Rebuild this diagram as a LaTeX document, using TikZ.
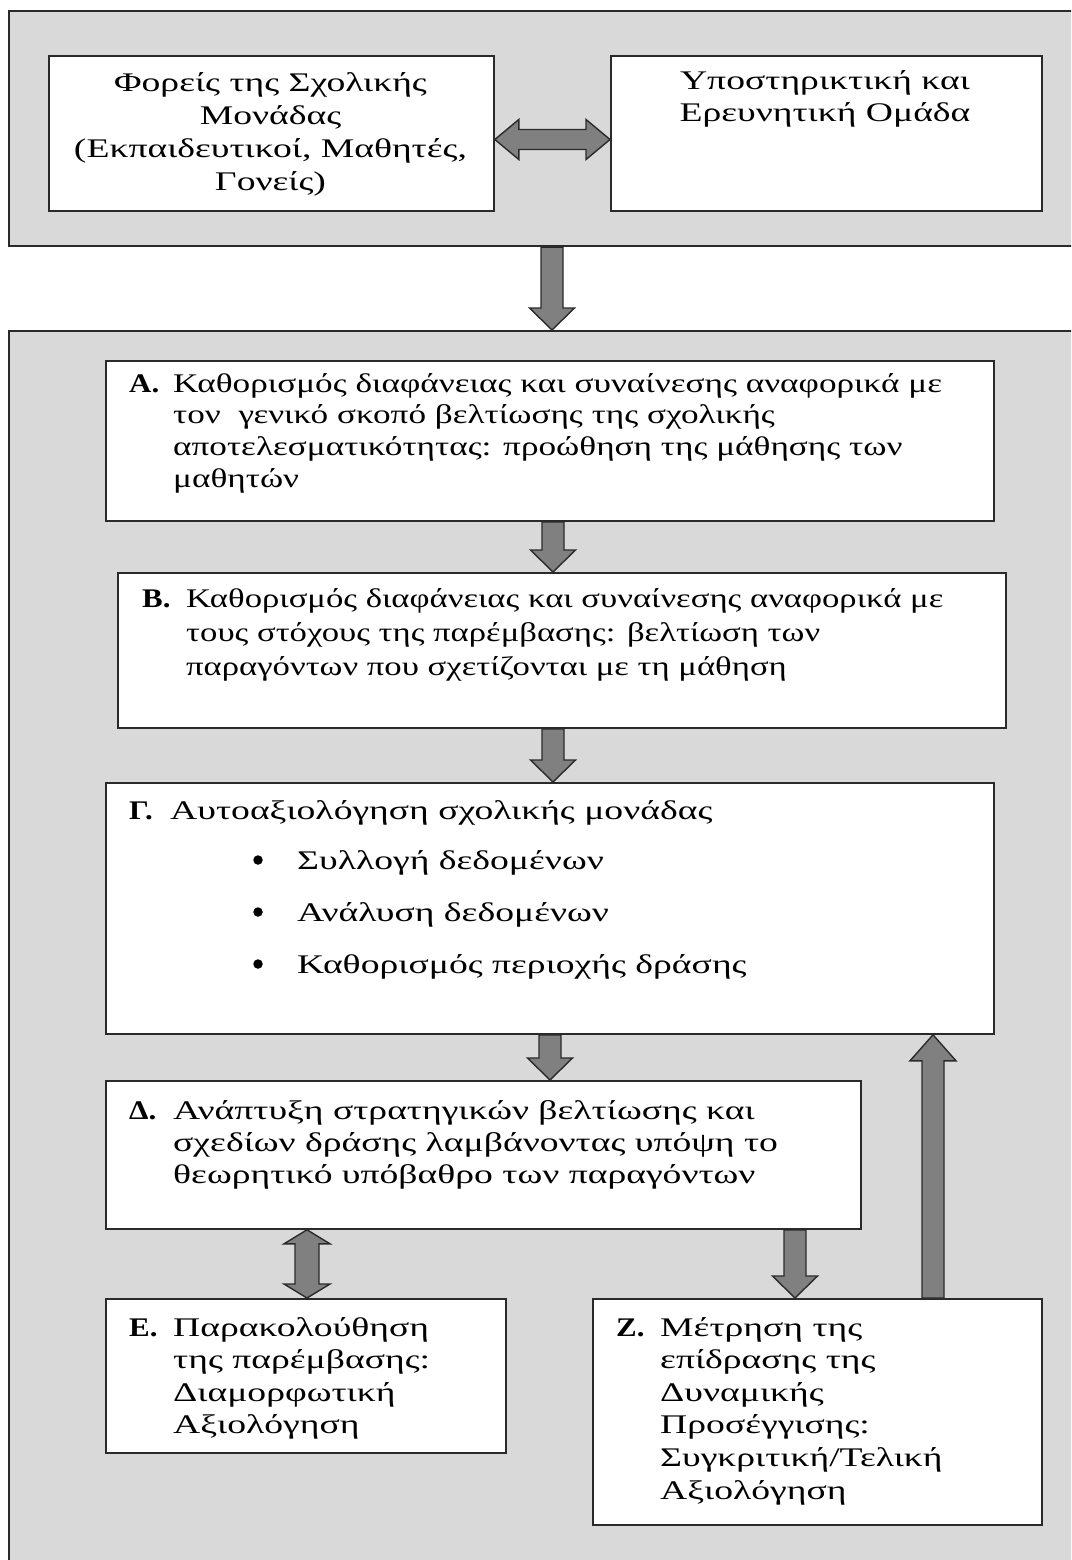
\documentclass[tikz,border=0pt]{standalone}
\usepackage{fontspec}
\setmainfont{Liberation Serif}[FakeStretch=1.4]
\newfontfamily\stepfont{Liberation Serif}[FakeStretch=1.31]
\newfontfamily\stepfontb{Liberation Serif}[FakeStretch=1.29]
\newfontfamily\labelfont{Liberation Serif}[FakeStretch=1.15]
\usetikzlibrary{calc}
\definecolor{panel}{HTML}{D9D9D9}
\definecolor{arrowfill}{HTML}{808080}
\definecolor{edge}{HTML}{2A2A2A}

% single block arrow: start, tip, shaft half-width, head half-width, head length
\newcommand\blkarrow[6]{%
  \path (#1) coordinate (s) (#2) coordinate (e) ($(e)!#5!(s)$) coordinate (h);
  \draw[blk] ($(s)!#3!90:(e)$) -- ($(h)!#3!90:(e)$) -- ($(h)!#4!90:(e)$) -- (e)
    -- ($(h)!#4!-90:(e)$) -- ($(h)!#3!-90:(e)$) -- ($(s)!#3!-90:(e)$) -- cycle;
  \coordinate (#6) at ($(s)!0.5!(e)$);}
% double block arrow: tip, tip, shaft half-width, head half-width, head length
\newcommand\dblarrow[6]{%
  \path (#1) coordinate (s) (#2) coordinate (e) ($(e)!#5!(s)$) coordinate (h)
    ($(s)!#5!(e)$) coordinate (g);
  \draw[blk] (s) -- ($(g)!#4!90:(e)$) -- ($(g)!#3!90:(e)$) -- ($(h)!#3!90:(e)$)
    -- ($(h)!#4!90:(e)$) -- (e) -- ($(h)!#4!-90:(e)$) -- ($(h)!#3!-90:(e)$)
    -- ($(g)!#3!-90:(e)$) -- ($(g)!#4!-90:(e)$) -- cycle;
  \coordinate (#6) at ($(s)!0.5!(e)$);}

\begin{document}
\begin{tikzpicture}[x=1bp,y=-1bp,
  panelbox/.style={fill=panel,draw=edge,line width=2.2bp},
  box/.style={fill=white,draw=edge,line width=1.8bp,inner sep=0pt,anchor=north west},
  txt/.style={anchor=base west,inner sep=0pt,font=\fontsize{27}{33}\selectfont},
  ctxt/.style={txt,anchor=base},
  stxt/.style={txt,font=\fontsize{27}{33}\stepfont},
  btxt/.style={txt,font=\fontsize{27}{33}\stepfontb},
  lbl/.style={txt,font=\fontsize{27}{33}\labelfont\bfseries},
  bul/.style={circle,fill=black,inner sep=0pt,minimum size=9.5bp},
  blk/.style={fill=arrowfill,draw=edge,line width=1.4bp,line join=miter}]

\useasboundingbox (0,0) rectangle (1071,1560);
\clip (0,0) rectangle (1071,1560);
\fill[white] (0,0) rectangle (1071,1560);

% the two grey panels
\node[panelbox,anchor=north west,inner sep=0pt,minimum width=1090bp,minimum height=235bp] (P1) at (8,10) {};
\node[panelbox,anchor=north west,inner sep=0pt,minimum width=1090bp,minimum height=1300bp] (P2) at (8,330) {};

% boxes
\node[box,minimum width=445bp,minimum height=155bp] (F) at (48,55) {};
\node[box,minimum width=431bp,minimum height=155bp] (S) at (610,55) {};
\node[box,minimum width=888bp,minimum height=160bp] (A) at (105,360) {};
\node[box,minimum width=888bp,minimum height=155bp] (B) at (117,572) {};
\node[box,minimum width=888bp,minimum height=251bp] (G) at (105,782) {};
\node[box,minimum width=755bp,minimum height=148bp] (D) at (105,1080) {};
\node[box,minimum width=400bp,minimum height=154bp] (E) at (105,1298) {};
\node[box,minimum width=449bp,minimum height=226bp] (Z) at (592,1298) {};

% texts of the upper panel
\foreach \t [count=\i] in {{Φορείς της Σχολικής},{Μονάδας},{(Εκπαιδευτικοί, Μαθητές,},{Γονείς)}}
  \node[ctxt] (F-\i) at (270.5,{92+32.7*(\i-1)}) {\t};
\foreach \t [count=\i] in {{Υποστηρικτική και},{Ερευνητική Ομάδα}}
  \node[ctxt] (S-\i) at (825,{90+32*(\i-1)}) {\t};

% A
\node[lbl] (A-l) at (129,392) {Α.};
\foreach \t [count=\i] in {{Καθορισμός διαφάνειας και συναίνεσης αναφορικά με},
  {τον\ \ γενικό σκοπό βελτίωσης της σχολικής},
  {αποτελεσματικότητας: προώθηση της μάθησης των},{μαθητών}}
  \node[stxt] (A-\i) at (173,{392+31.8*(\i-1)}) {\t};

% B
\node[lbl] (B-l) at (142,607) {Β.};
\foreach \t [count=\i] in {{Καθορισμός διαφάνειας και συναίνεσης αναφορικά με},
  {τους στόχους της παρέμβασης: βελτίωση των},
  {παραγόντων που σχετίζονται με τη μάθηση}}
  \node[btxt] (B-\i) at (186,{607+34*(\i-1)}) {\t};

% Γ
\node[lbl] (G-l) at (129,819) {Γ.};
\node[txt] (G-0) at (170,819) {Αυτοαξιολόγηση σχολικής μονάδας};
\foreach \t [count=\i] in {{Συλλογή δεδομένων},{Ανάλυση δεδομένων},{Καθορισμός περιοχής δράσης}}{
  \node[bul] (G-b\i) at (258,{860+52*(\i-1)}) {};
  \node[txt] (G-\i) at (297,{869+52*(\i-1)}) {\t};}

% Δ
\node[lbl] (D-l) at (129,1119) {Δ.};
\foreach \t [count=\i] in {{Ανάπτυξη στρατηγικών βελτίωσης και},
  {σχεδίων δράσης λαμβάνοντας υπόψη το},{θεωρητικό υπόβαθρο των παραγόντων}}
  \node[txt] (D-\i) at (173,{1119+32*(\i-1)}) {\t};

% Ε
\node[lbl] (E-l) at (129,1336) {Ε.};
\foreach \t [count=\i] in {{Παρακολούθηση},{της παρέμβασης:},{Διαμορφωτική},{Αξιολόγηση}}
  \node[txt] (E-\i) at (173,{1336+32.6*(\i-1)}) {\t};

% Ζ
\node[lbl] (Z-l) at (616,1336) {Ζ.};
\foreach \t [count=\i] in {{Μέτρηση της},{επίδρασης της},{Δυναμικής},{Προσέγγισης:},
  {Συγκριτική/Τελική},{Αξιολόγηση}}
  \node[txt] (Z-\i) at (660,{1336+32.6*(\i-1)}) {\t};

% block arrows
\dblarrow{F.east |- 0,139.5}{S.west |- 0,139.5}{10bp}{20bp}{24bp}{fs}
\blkarrow{552,0 |- P1.south}{552,0 |- P2.north}{11bp}{22.5bp}{22bp}{p12}
\blkarrow{553,0 |- A.south}{553,0 |- B.north}{11bp}{22.5bp}{22bp}{ab}
\blkarrow{553,0 |- B.south}{553,0 |- G.north}{11bp}{22.5bp}{22bp}{bg}
\blkarrow{550,0 |- G.south}{550,0 |- D.north}{11bp}{22.5bp}{22bp}{gd}
\dblarrow{307,0 |- D.south}{307,0 |- E.north}{12bp}{23bp}{14bp}{de}
\blkarrow{795,0 |- D.south}{795,0 |- Z.north}{11bp}{22.5bp}{22bp}{dz}
\blkarrow{933,0 |- Z.north}{933,0 |- G.south}{11bp}{23bp}{26bp}{zg}
\end{tikzpicture}
\end{document}
